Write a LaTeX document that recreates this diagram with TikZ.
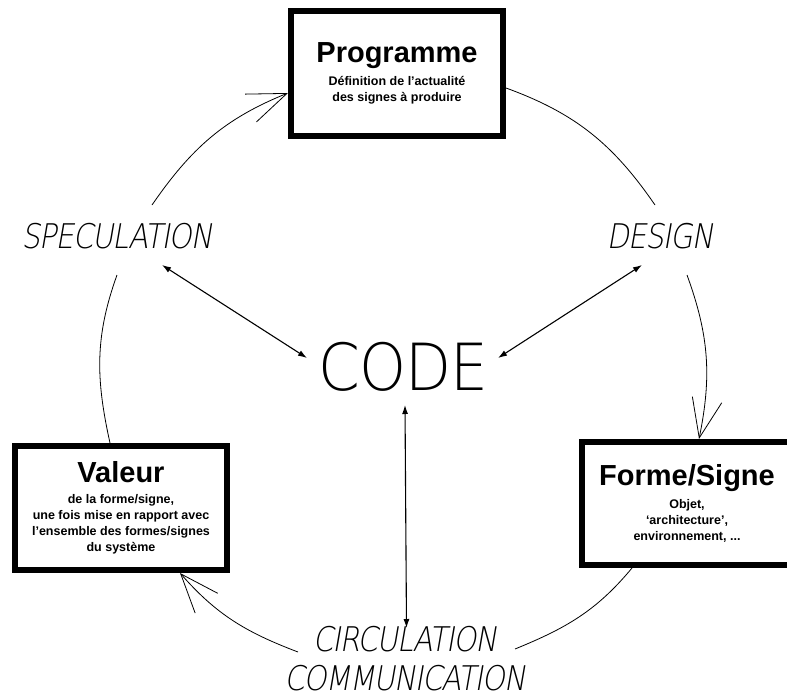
\documentclass[tikz,border=0pt]{standalone}
\usepackage{fontspec}
\setmainfont{Liberation Sans}
\IfFontExistsTF{DejaVu Sans ExtraLight}
  {\newfontfamily\fin{DejaVu Sans ExtraLight}[LetterSpace=-2]
   \newfontfamily\finit{DejaVu Sans ExtraLight}[FakeSlant=0.2, LetterSpace=-4]}
  {\newcommand{\fin}{\color{black!75}}
   \newcommand{\finit}{\itshape\color{black!75}}}
\usetikzlibrary{arrows.meta}
\newcommand{\boxtitle}[1]{{\fontsize{29}{16}\selectfont #1}}
\newcommand{\etroit}[1]{\scalebox{0.86}[1]{#1}}
\tikzset{
  etape/.style={draw, line width=6pt, fill=white, align=center, inner sep=0pt,
    font=\fontsize{12.5}{16}\selectfont\bfseries},
  mot/.style={font=\fontsize{34}{39}\selectfont\finit, align=center, inner sep=0pt},
  cycle/.style={line width=0.8pt},
  fleche/.style={cycle, -{Straight Barb[length=39pt,width=30pt]}},
  lien/.style={line width=1.1pt, {Latex[length=9pt,width=6pt]}-{Latex[length=9pt,width=6pt]}}
}
\begin{document}
\begin{tikzpicture}[x=1pt, y=1pt]
  \useasboundingbox (0,0) rectangle (787,-699);
  % the three stages
  \node(prog) [etape, minimum width=212pt, minimum height=125pt] at (397,-73.5)
    {\boxtitle{Programme}\\[7pt]Définition de l'actualité\\des signes à produire};
  \node(forme) [etape, minimum width=210pt, minimum height=123pt] at (687,-503.5)
    {\boxtitle{Forme/Signe}\\[7pt]Objet,\\‘architecture’,\\environnement, ...};
  \node(valeur) [etape, minimum width=212pt, minimum height=124pt] at (121,-508)
    {\boxtitle{Valeur}\\[5pt]de la forme/signe,\\une fois mise en rapport avec\\l'ensemble des formes/signes\\du système};
  % the processes
  \node(spec) [mot] at (117,-236) {\etroit{SPECULATION}};
  \node(design) [mot] at (660,-236) {\etroit{DESIGN}};
  \node(circ) [mot] at (405,-659) {\etroit{CIRCULATION}\\\etroit{COMMUNICATION}};
  \node(code) [mot, font=\fontsize{65}{65}\selectfont\fin] at (403.5,-366.5) {\scalebox{0.92}[1]{CODE}};
  % the cycle
  \draw[cycle] ([yshift=-14.5pt]prog.east) to[out=-20, in=124.5] ([shift={(-5,31)}]design.center);
  \draw[fleche] ([shift={(27,-39)}]design.center) to[out=-70, in=78.4] ([xshift=12pt]forme.north);
  \draw[cycle] ([xshift=-55pt]forme.south) to[out=-129.7, in=22.2] ([shift={(110,10)}]circ.center);
  \draw[fleche] ([shift={(-107,7)}]circ.center) to[out=159.2, in=-48.8] ([xshift=59pt]valeur.south);
  \draw[cycle] ([xshift=-11pt]valeur.north) to[out=102.5, in=250.2] ([shift={(0,-39)}]spec.center);
  \draw[fleche] ([shift={(35,31)}]spec.center) to[out=55.4, in=202] ([yshift=-19.5pt]prog.west);
  % links with the code
  \draw[lien] ([shift={(45,-29)}]spec.center) -- ([shift={(-96.5,8.5)}]code.center);
  \draw[lien] ([shift={(-18,-29)}]design.center) -- ([shift={(94.5,8.5)}]code.center);
  \draw[lien] ([shift={(1.5,-38.5)}]code.center) -- ([shift={(1.5,31)}]circ.center);
\end{tikzpicture}
\end{document}
